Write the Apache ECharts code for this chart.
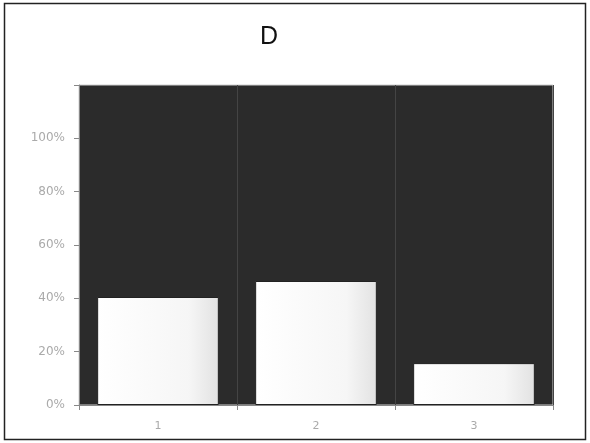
<!DOCTYPE html>
<html><head><meta charset="utf-8">
<script src="https://cdn.jsdelivr.net/npm/echarts@6/dist/echarts.min.js"></script>
<style>html,body{margin:0;padding:0;background:#fff}#c{width:590px;height:443px}</style>
</head><body><div id="c"></div>
<script>
const title = "D";
const categories = ["1", "2", "3"];
const values = [0.405, 0.465, 0.157];
const yTicks = [0, 0.2, 0.4, 0.6, 0.8, 1.0];

const chart = echarts.init(document.getElementById('c'), null, {renderer: 'canvas'});
chart.setOption({
  animation: false,
  backgroundColor: '#fff',
  title: {
    text: title, left: 264, top: 20, textAlign: 'center',
    textStyle: {fontFamily: 'Liberation Sans', fontWeight: 'normal', fontSize: 25, color: '#111'}
  },
  graphic: [{
    type: 'rect', shape: {x: 4.5, y: 3.5, width: 581, height: 436},
    style: {fill: 'none', stroke: '#222', lineWidth: 1.5}, z: 100, silent: true
  }],
  grid: {left: 79, right: 37, top: 85, bottom: 38, show: true, backgroundColor: '#2b2b2b', borderColor: '#cfcfcf', borderWidth: 1},
  xAxis: {
    type: 'category', data: categories,
    axisLine: {show: true, lineStyle: {color: '#888'}},
    axisTick: {show: true, length: 5, lineStyle: {color: '#888'}},
    splitLine: {show: true, lineStyle: {color: '#444', width: 1}},
    axisLabel: {color: '#aaa', fontFamily: 'DejaVu Sans', fontSize: 11, margin: 16}
  },
  yAxis: {
    type: 'value', min: 0, max: 1.2, interval: 0.2,
    axisLine: {show: true, lineStyle: {color: '#888'}},
    axisTick: {show: true, length: 5, lineStyle: {color: '#888'}},
    splitLine: {show: false},
    axisLabel: {
      color: '#aaa', fontFamily: 'DejaVu Sans', fontSize: 12, margin: 14,
      formatter: v => yTicks.some(t => Math.abs(t - v) < 1e-6) ? Math.round(v * 100) + '%' : ''
    }
  },
  series: [{
    type: 'bar', data: values, barCategoryGap: '23%',
    itemStyle: {
      color: new echarts.graphic.LinearGradient(0, 0, 1, 0, [
        {offset: 0, color: '#ffffff'}, {offset: 0.75, color: '#f6f6f6'}, {offset: 1, color: '#e2e2e2'}
      ]),
      borderColor: '#222', borderWidth: 1
    }
  }]
});
</script></body></html>
